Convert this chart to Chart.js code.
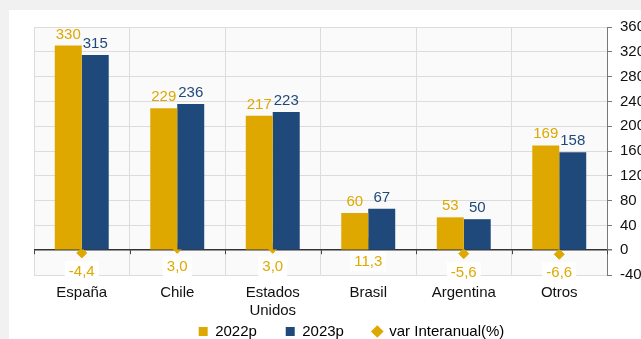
<!DOCTYPE html>
<html>
<head>
<meta charset="utf-8">
<script src="https://cdn.jsdelivr.net/npm/chart.js@4.4.1/dist/chart.umd.min.js"></script>
<style>
  html, body { margin: 0; padding: 0; background: #f1f1f1; overflow: hidden; }
  #card { position: absolute; left: 9px; top: 10px; width: 660px; height: 339px; background: #fff; }
</style>
</head>
<body>
<div id="card"><canvas id="chart" width="660" height="339"></canvas></div>
<script>
// datos del gráfico
var paises = ['España', 'Chile', ['Estados', 'Unidos'], 'Brasil', 'Argentina', 'Otros'];
var valores2022 = [330, 229, 217, 60, 53, 169];
var valores2023 = [315, 236, 223, 67, 50, 158];
var varInteranual = [-4.4, 3.0, 3.0, 11.3, -5.6, -6.6];
var ticksEje = [-40, 0, 40, 80, 120, 160, 200, 240, 280, 320, 360];

var dorado = '#DFA800';
var azul = '#1F497B';
var fuente = '"Liberation Sans", Arial, sans-serif';

function formato(v){
  return v.toFixed(1).replace('.', ',');
}

// fondo del area de trazado y marcas sobre la linea de cero
var fondoPlugin = {
  id: 'fondo',
  beforeDraw: function(chart){
    var a = chart.chartArea, ctx = chart.ctx;
    ctx.save();
    ctx.fillStyle = '#fafafa';
    ctx.fillRect(a.left, a.top, a.right - a.left, a.bottom - a.top);
    ctx.restore();
  },
  afterDatasetsDraw: function(chart){
    var ctx = chart.ctx, x = chart.scales.x, y = chart.scales.y;
    var y0 = y.getPixelForValue(0);
    var w = x.width / paises.length;
    ctx.save();
    ctx.strokeStyle = '#444';
    ctx.lineWidth = 1;
    for (var i = 0; i <= paises.length; i++) {
      var px = Math.round(x.left + i * w) + 0.5;
      ctx.beginPath();
      ctx.moveTo(px, y0);
      ctx.lineTo(px, y0 + 4);
      ctx.stroke();
    }
    ctx.restore();
  }
};

// etiquetas de valores
var etiquetasPlugin = {
  id: 'etiquetas',
  afterDatasetsDraw: function(chart){
    var ctx = chart.ctx;
    ctx.save();
    ctx.font = '15px ' + fuente;
    ctx.textAlign = 'center';
    chart.data.datasets.forEach(function(ds, di){
      var meta = chart.getDatasetMeta(di);
      meta.data.forEach(function(el, i){
        var v = ds.data[i];
        if (ds.type === 'line') {
          var txt = formato(v);
          var tw = ctx.measureText(txt).width;
          var cy = el.y + 18;
          ctx.fillStyle = '#fff';
          ctx.fillRect(el.x - tw / 2 - 4, cy - 10, tw + 8, 20);
          ctx.fillStyle = dorado;
          ctx.textBaseline = 'middle';
          ctx.fillText(txt, el.x, cy + 1);
        } else {
          ctx.fillStyle = ds.backgroundColor;
          ctx.textBaseline = 'alphabetic';
          ctx.fillText(String(v), el.x, el.y - 7);
        }
      });
    });
    ctx.restore();
  }
};

new Chart(document.getElementById('chart'), {
  type: 'bar',
  data: {
    labels: paises,
    datasets: [{
      label: '2022p',
      data: valores2022,
      backgroundColor: dorado,
      categoryPercentage: 0.565,
      barPercentage: 1,
      order: 1
    }, {
      label: '2023p',
      data: valores2023,
      backgroundColor: azul,
      categoryPercentage: 0.565,
      barPercentage: 1,
      order: 2
    }, {
      type: 'line',
      label: 'var Interanual(%)',
      data: varInteranual,
      showLine: false,
      pointStyle: 'rectRot',
      pointRadius: 5,
      pointBackgroundColor: dorado,
      pointBorderColor: dorado,
      backgroundColor: dorado,
      borderColor: dorado,
      order: 3
    }]
  },
  options: {
    responsive: false,
    animation: false,
    layout: { padding: { left: 25, top: 11 } },
    plugins: {
      tooltip: { enabled: false },
      legend: {
        position: 'bottom',
        labels: {
          usePointStyle: true,
          boxWidth: 9,
          boxHeight: 9,
          color: '#111',
          padding: 8,
          font: { family: fuente, size: 15 },
          generateLabels: function(chart){
            var n = chart.data.datasets.length;
            return chart.data.datasets.map(function(ds, i){
              return {
                text: i < n - 1 ? ds.label + '     ' : ds.label,
                fillStyle: ds.backgroundColor,
                strokeStyle: ds.backgroundColor,
                lineWidth: 0,
                pointStyle: ds.type === 'line' ? 'rectRot' : 'rect',
                datasetIndex: i
              };
            });
          }
        }
      }
    },
    scales: {
      x: {
        grid: { color: '#dcdcdc', drawTicks: false, offset: true },
        border: { display: false },
        ticks: { color: '#111', padding: 9, font: { family: fuente, size: 15 } },
        afterFit: function(s){ s.height = 41; }
      },
      y: {
        position: 'right',
        min: -40,
        max: 360,
        afterBuildTicks: function(s){
          s.ticks = ticksEje.map(function(v){ return { value: v }; });
        },
        grid: {
          color: function(c){ return c.tick && c.tick.value === 0 ? '#333' : '#dcdcdc'; },
          lineWidth: function(c){ return c.tick && c.tick.value === 0 ? 1.5 : 1; },
          tickLength: 5,
          tickColor: '#777'
        },
        border: { display: true, color: '#777' },
        ticks: { color: '#111', padding: 8, font: { family: fuente, size: 15 } },
        afterFit: function(s){ s.width = 62; }
      }
    }
  },
  plugins: [fondoPlugin, etiquetasPlugin]
});
</script>
</body>
</html>
